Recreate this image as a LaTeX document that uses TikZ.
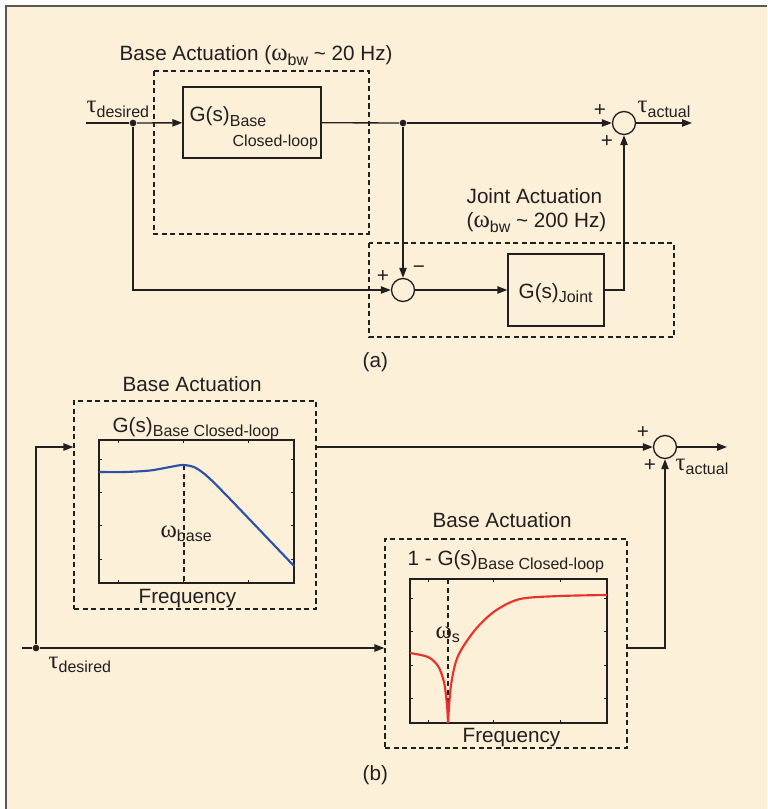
\documentclass[tikz,border=0pt]{standalone}
\usepackage{fontspec}
\setmainfont{Liberation Sans}
\newfontfamily\grk[Scale=1.2]{Liberation Serif}
\usetikzlibrary{arrows.meta}

\definecolor{paper}{RGB}{253,240,217}
\definecolor{ink}{RGB}{35,31,32}
\definecolor{bodeblue}{RGB}{45,80,170}
\definecolor{bodered}{RGB}{235,50,40}
\newcommand\lo[1]{\raisebox{-3.5pt}{\fontsize{12}{12}\selectfont #1}}
\newcommand\gr[1]{{\grk #1}}

\begin{document}
\begin{tikzpicture}[x=0.75pt, y=-0.75pt, color=ink, line width=1pt,
  font=\fontsize{15.5}{18}\selectfont,
  >={Triangle[length=7.5pt,width=5.5pt]},
  blk/.style={draw, rectangle, inner sep=0pt},
  sum/.style={draw, circle, minimum size=17.25pt, inner sep=0pt},
  dbox/.style={draw, dash pattern=on 3.8pt off 2.6pt, line width=0.9pt},
  dot/.style={circle, fill, inner sep=0pt, minimum size=5pt},
  sgn/.style={inner sep=0pt},
  lbl/.style={anchor=base west, inner sep=0pt},
  tick/.style={line width=0.6pt}]
  \useasboundingbox (0,0) rectangle (767,809);
  \fill[white] (0,0) rectangle (767,809);
  \fill[paper] (6,6) rectangle (767,809);
  \draw[line width=1.5pt, ink!75] (6,809) -- (6,6) -- (767,6);

  % (a) base and joint actuation in series
  \node[lbl] at (119,61) {Base Actuation (\gr{ω}\lo{bw} \textasciitilde{} 20 Hz)};
  \draw[dbox] (154,71) rectangle (369,234);
  \node[blk, minimum width=103.5pt, minimum height=53.25pt] (gbase) at (252,122.5) {};
  \node[lbl] at (189,122) {G(s)\lo{Base}};
  \node[lbl, font=\fontsize{12}{12}\selectfont] at (232,147) {Closed-loop};

  \coordinate (inA) at (86,123);
  \node[dot] (dotA) at (133,123) {};
  \node[lbl] at (86,113) {\gr{τ}\lo{desired}};
  \node[dot] (dotA2) at (403,123) {};
  \node[sum] (sumA1) at (624,123) {};
  \coordinate (outA) at (692,123);
  \node[lbl] at (637,113) {\gr{τ}\lo{actual}};
  \node[sgn] at (600,111) {+};
  \node[sgn] at (607,142) {+};

  \node[lbl] at (466,204) {Joint Actuation};
  \node[lbl] at (466,228) {(\gr{ω}\lo{bw} \textasciitilde{} 200 Hz)};
  \draw[dbox] (369,243) rectangle (674,337);
  \node[sum] (sumA2) at (403,290) {};
  \node[sgn] at (383,277) {+};
  \node[sgn] at (419,270) {−};
  \node[blk, minimum width=72pt, minimum height=54pt] (gjoint) at (556,290) {};
  \node[lbl] at (518,298) {G(s)\lo{Joint}};
  \node[lbl] at (362,367) {(a)};

  \draw (inA) -- (dotA);
  \draw[->] (dotA) -- (gbase);
  \draw[->] (dotA) |- (sumA2);
  \draw (gbase) -- (dotA2);
  \draw[->] (dotA2) -- (sumA1);
  \draw[->] (dotA2) -- (sumA2);
  \draw[->] (sumA2) -- (gjoint);
  \draw[->] (gjoint) -| (sumA1);
  \draw[->] (sumA1) -- (outA);

  % (b) base actuation with complementary path
  \node[lbl] at (122,391) {Base Actuation};
  \node[dbox, minimum width=181.5pt, minimum height=156pt] (bodeB) at (195,505) {};
  \node[lbl] at (112,432) {G(s)\lo{Base Closed-loop}};
  \draw[line width=0.9pt] (99,440) rectangle (294,583);
  \foreach \y in {459,492,525,559} {
    \draw[tick] (99,\y) -- +(3,0);
    \draw[tick] (294,\y) -- +(-3,0);
  }
  \foreach \x in {118,183,248} {
    \draw[tick] (\x,583) -- +(0,-3);
    \draw[tick] (\x,440) -- +(0,3);
  }
  \draw[dbox] (184,465) -- (184,583);
  \draw[bodeblue, line width=1.6pt] plot[smooth] coordinates
    {(99,472) (125,472) (150,470.5) (170,467) (183,465) (195,467.5) (208,477) (230,499) (294,566)};
  \node[lbl] at (160,537) {\gr{ω}\lo{base}};
  \node[lbl] at (138,603) {Frequency};

  \coordinate (inB) at (22,648);
  \node[dot] (dotB) at (36,648) {};
  \node[lbl] at (48,668) {\gr{τ}\lo{desired}};
  \node[sum] (sumB) at (665,447) {};
  \coordinate (outB) at (727,447);
  \node[lbl] at (675,470) {\gr{τ}\lo{actual}};
  \node[sgn] at (643,433) {+};
  \node[sgn] at (650,466) {+};

  \node[lbl] at (432,527) {Base Actuation};
  \node[dbox, minimum width=181.5pt, minimum height=156.75pt] (bodeC) at (506,643.5) {};
  \node[lbl] at (407,565) {1 - G(s)\lo{Base Closed-loop}};
  \draw[line width=0.9pt] (410,579) rectangle (607,723);
  \foreach \y in {598,631,665,698} {
    \draw[tick] (410,\y) -- +(3,0);
    \draw[tick] (607,\y) -- +(-3,0);
  }
  \foreach \x in {428,493,560} {
    \draw[tick] (\x,723) -- +(0,-3);
    \draw[tick] (\x,579) -- +(0,3);
  }
  \draw[dbox] (448,579) -- (448,723);
  \draw[bodered, line width=1.6pt] plot[smooth] coordinates
    {(410,653) (428,657) (438,666) (444,682) (447,705) (448,723)};
  \draw[bodered, line width=1.6pt] plot[smooth] coordinates
    {(448,723) (451,685) (458,656) (475,630) (495,611) (520,599) (560,596) (607,595)};
  \node[lbl] at (435,638) {\gr{ω}\lo{s}};
  \node[lbl] at (462,742) {Frequency};
  \node[lbl] at (362,780) {(b)};

  \draw (inB) -- (dotB);
  \draw[->] (dotB) |- (bodeB.west |- sumB);
  \draw[->] (bodeB.east |- sumB) -- (sumB);
  \draw[->] (dotB) -- (bodeC.west |- dotB);
  \draw[->] (bodeC.east |- dotB) -| (sumB);
  \draw[->] (sumB) -- (outB);
\end{tikzpicture}
\end{document}
